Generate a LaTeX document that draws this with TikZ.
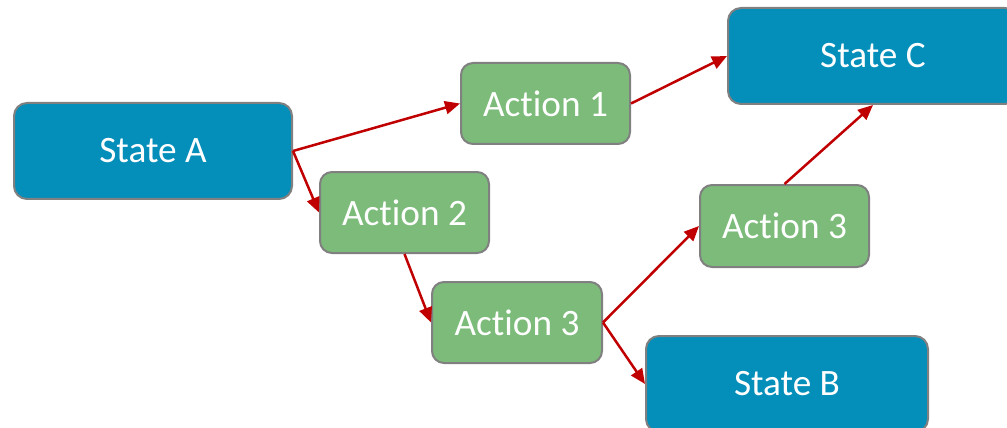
\documentclass[tikz,border=0pt]{standalone}
\usepackage{fontspec}
\setmainfont{Carlito}[Ligatures=NoCommon]
\usepackage{tikz}
\usetikzlibrary{arrows.meta}
\definecolor{statebl}{RGB}{4,142,186}
\definecolor{actiongr}{RGB}{124,187,122}
\definecolor{edgegr}{RGB}{128,128,128}
\definecolor{arrowrd}{RGB}{192,0,0}
\tikzstyle{state} = [draw=edgegr, fill=statebl, line width=0.2mm, text=white,
    rectangle, rounded corners=1.3mm, minimum width=27.8mm, minimum height=9.6mm,
    font=\fontsize{10.6}{12}\selectfont]
\tikzstyle{action} = [draw=edgegr, fill=actiongr, line width=0.2mm, text=white,
    rectangle, rounded corners=1.2mm, minimum width=16.9mm, minimum height=8.1mm,
    font=\fontsize{10.6}{12}\selectfont]
\tikzstyle{move} = [draw=arrowrd, line width=0.25mm,
    -{Triangle[length=1.5mm, width=1.3mm]}]

\begin{document}
\begin{tikzpicture}[x=0.1mm, y=-0.1mm]
\clip (0,0) rectangle (1007,427);
\node [state] (sa) at (153,151) {State A};
\node [state, minimum width=29mm] (sc) at (873,56) {State C};
\node [state, minimum width=28.2mm] (sb) at (787,384) {State B};
\node [action] (a1) at (545.5,103.5) {Action 1};
\node [action] (a2) at (404.5,212.5) {Action 2};
\node [action, minimum width=17mm] (a3) at (517,322.5) {Action 3};
\node [action, minimum height=8.2mm] (a4) at (784.5,226) {Action 3};
\draw [move] (sa.east) -- (a1.west);
\draw [move] (sa.east) -- (a2.west);
\draw [move] (a2.south) -- (a3.west);
\draw [move] (a3.east) -- (a4.west);
\draw [move] (a3.east) -- (sb.west);
\draw [move] (a1.east) -- (sc.west);
\draw [move] (a4.north) -- (sc.south);
\end{tikzpicture}
\end{document}
